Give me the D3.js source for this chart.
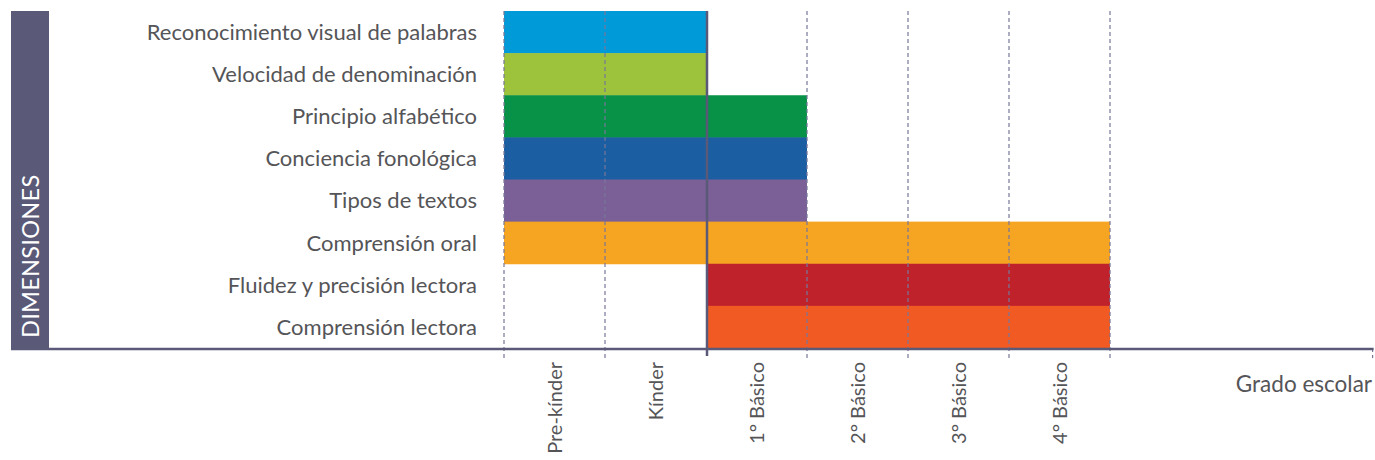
<!DOCTYPE html>
<html><head><meta charset="utf-8">
<script src="https://cdn.jsdelivr.net/npm/d3@7"></script>
<style>body{margin:0;background:#fff;}svg{display:block;}</style>
</head><body>
<svg id="c" width="1375" height="460"></svg>
<script>
const dimensions = ["Reconocimiento visual de palabras","Velocidad de denominación","Principio alfabético","Conciencia fonológica","Tipos de textos","Comprensión oral","Fluidez y precisión lectora","Comprensión lectora"];
const startGrade = [0,0,0,0,0,0,2,2];
const endGrade   = [2,2,3,3,3,6,6,6];
const barColors  = ["#009ad8","#9dc23c","#079247","#1b5fa2","#7b5f97","#f5a522","#c0222c","#f15a22"];
const grades = ["Pre-kínder","Kínder","1° Básico","2° Básico","3° Básico","4° Básico"];
const axisEnd = 8.6;
const xTitle = "Grado escolar";
const yTitle = "DIMENSIONES";

const svg = d3.select("#c");
const font = "Lato, 'Open Sans', sans-serif";
const axisColor = "#5a5a78";
const textColor = "#555558";
const plotTop = 11, plotBottom = 348;
const x = d3.scaleLinear().domain([0, 6]).range([504, 1110]);
const y = d3.scaleBand().domain(dimensions).range([plotTop, plotBottom]).padding(0);

// left band
svg.append("rect").attr("x",11).attr("y",plotTop).attr("width",38).attr("height",plotBottom-plotTop).attr("fill",axisColor);
svg.append("text").attr("transform",`translate(38.5,338) rotate(-90)`)
  .attr("fill","#fff").attr("font-family",font).attr("font-size",23.5).attr("letter-spacing",0.3)
  .text(yTitle);

// bars
svg.selectAll("rect.bar").data(dimensions).enter().append("rect").attr("class","bar")
  .attr("x",(d,i)=>x(startGrade[i])).attr("y",d=>y(d))
  .attr("width",(d,i)=>x(endGrade[i])-x(startGrade[i])).attr("height",y.bandwidth()+0.5)
  .attr("fill",(d,i)=>barColors[i]);

// row labels
svg.selectAll("text.row").data(dimensions).enter().append("text").attr("class","row")
  .attr("x",477).attr("y",d=>y(d)+y.bandwidth()/2).attr("dy","0.36em")
  .attr("text-anchor","end").attr("font-family",font).attr("font-size",22).attr("fill",textColor)
  .text(d=>d);

// gridlines (dashed)
const tickVals = d3.range(0,7).concat([axisEnd]);
svg.selectAll("line.grid").data(tickVals.filter(v=>v!==2)).enter().append("line").attr("class","grid")
  .attr("x1",d=>x(d)).attr("x2",d=>x(d)).attr("y1",d=>d===axisEnd?plotBottom:plotTop).attr("y2",358)
  .attr("stroke","#77779a").attr("stroke-width",1.2).attr("stroke-dasharray","4,3");

// axis line
svg.append("line").attr("x1",11).attr("x2",x(axisEnd)+1).attr("y1",plotBottom+1).attr("y2",plotBottom+1)
  .attr("stroke",axisColor).attr("stroke-width",2.5);
// solid vertical at 1° Básico
svg.append("line").attr("x1",x(2)+1).attr("x2",x(2)+1).attr("y1",plotTop).attr("y2",356)
  .attr("stroke",axisColor).attr("stroke-width",2.5);

// grade labels
svg.selectAll("text.grade").data(grades).enter().append("text").attr("class","grade")
  .attr("transform",(d,i)=>`translate(${(x(i)+x(i+1))/2+7},362) rotate(-90)`)
  .attr("text-anchor","end").attr("font-family",font).attr("font-size",20).attr("fill",textColor)
  .text(d=>d);

svg.append("text").attr("x",1372).attr("y",392).attr("text-anchor","end")
  .attr("font-family",font).attr("font-size",22.5).attr("fill",textColor).text(xTitle);
</script>
</body></html>
